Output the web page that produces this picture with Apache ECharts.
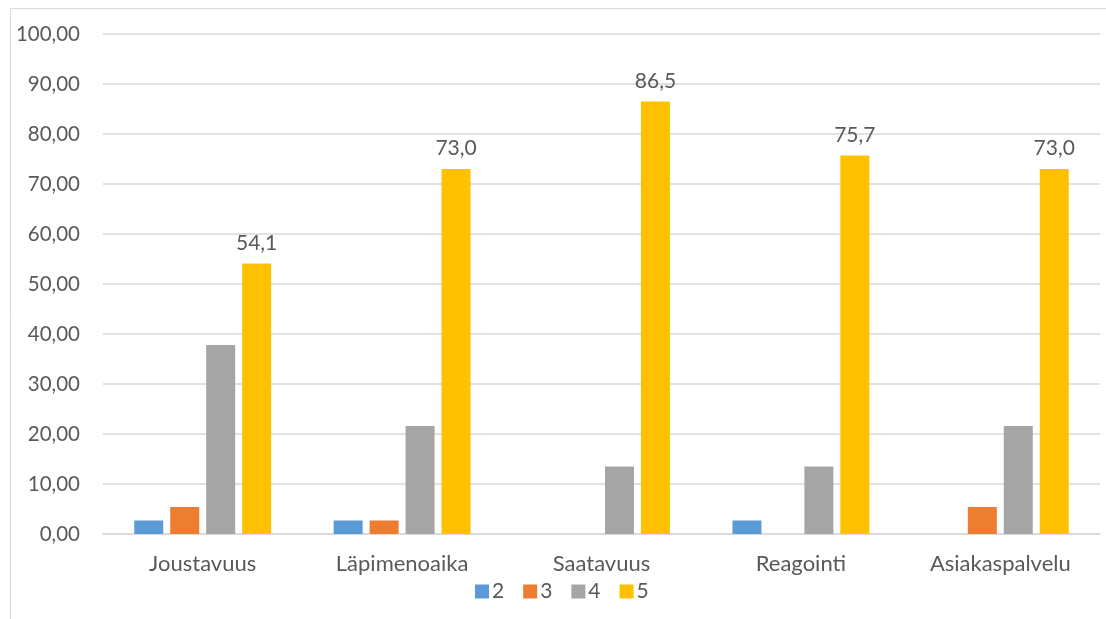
<!DOCTYPE html>
<html><head><meta charset="utf-8">
<script src="https://cdn.jsdelivr.net/npm/echarts@6/dist/echarts.min.js"></script>
<style>html,body{margin:0;padding:0;background:#fff}#c{width:1106px;height:619px}</style>
</head><body><div id="c"></div>
<script>
const categories = ['Joustavuus', 'Läpimenoaika', 'Saatavuus', 'Reagointi', 'Asiakaspalvelu'];
const seriesNames = ['2', '3', '4', '5'];
const s2 = [2.7, 2.7, 0, 2.7, 0];
const s3 = [5.4, 2.7, 0, 0, 5.4];
const s4 = [37.8, 21.6, 13.5, 13.5, 21.6];
const s5 = [54.1, 73.0, 86.5, 75.7, 73.0];
const colors = ['#5B9BD5', '#ED7D31', '#A5A5A5', '#FFC000'];
const yTicks = {min: 0, max: 100, interval: 10};

const FONT = 'Lato';
const TXT = '#595959';
const chart = echarts.init(document.getElementById('c'), null, {renderer: 'canvas'});
const data = [s2, s3, s4, s5];
const series = data.map((d, i) => ({
  name: seriesNames[i], type: 'bar', data: d, barWidth: 29, barGap: '24%',
  itemStyle: {color: colors[i], borderWidth: 0},
  label: i === 3 ? {show: true, position: 'top', distance: 10, color: TXT, fontFamily: FONT, fontSize: 21,
    formatter: p => p.value.toFixed(1).replace('.', ',')} : {show: false},
  emphasis: {disabled: true}
}));
chart.setOption({
  animation: false,
  color: colors,
  graphic: [{type: 'rect', shape: {x: 10.5, y: 8.5, width: 1200, height: 700}, style: {fill: 'none', stroke: '#D9D9D9', lineWidth: 1}, z: -1}],
  grid: {left: 103, right: 6, top: 34, bottom: 85},
  legend: {data: seriesNames, left: 470, top: 576, itemWidth: 14, itemHeight: 14, itemGap: 19,
    icon: 'rect', textStyle: {color: TXT, fontFamily: FONT, fontSize: 21, padding: [0, 0, 0, -2]}},
  xAxis: {type: 'category', data: categories,
    axisLine: {lineStyle: {color: '#D9D9D9', width: 1.5}}, axisTick: {show: false},
    axisLabel: {color: TXT, fontFamily: FONT, fontSize: 22, margin: 19}},
  yAxis: {type: 'value', min: yTicks.min, max: yTicks.max, interval: yTicks.interval,
    axisLine: {show: false}, axisTick: {show: false},
    splitLine: {lineStyle: {color: '#D9D9D9', width: 1.5}},
    axisLabel: {color: TXT, fontFamily: FONT, fontSize: 20.5, margin: 23,
      formatter: v => v.toFixed(2).replace('.', ',')}},
  series: series
});
</script></body></html>
